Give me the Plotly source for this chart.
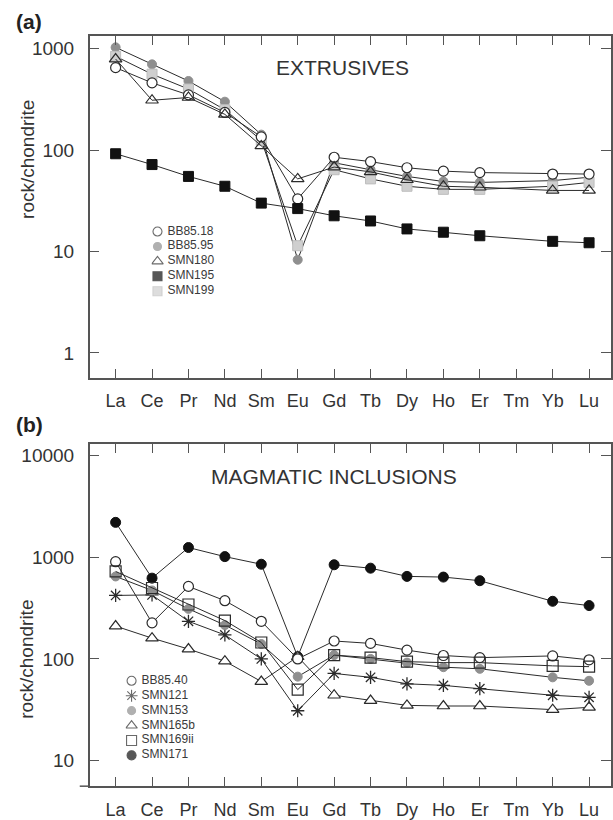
import plotly.graph_objects as go

# ---------------------------------------------------------------- data
elements = ["La", "Ce", "Pr", "Nd", "Sm", "Eu", "Gd", "Tb", "Dy", "Ho", "Er", "Tm", "Yb", "Lu"]

# (a) extrusives, chondrite-normalised REE (Tm not determined)
extr_names = ["BB85.18", "BB85.95", "SMN180", "SMN195", "SMN199"]
bb85_18 = [650, 460, 350, 235, 135, 33, 85, 77, 67, 62, 60, None, 58, 58]
bb85_95 = [1030, 700, 480, 300, 142, 8.3, 75, 64, 55, 49, 48, None, 50, 54]
smn180 = [790, 310, 330, 225, 110, 52, 68, 61, 51, 44, 43, None, 40, 40]
smn195 = [92, 72, 55, 44, 30, 26.5, 22.5, 20, 16.7, 15.5, 14.3, None, 12.6, 12.2]
smn199 = [840, 560, 400, 250, 125, 11.4, 64, 52, 44, 41, 41, None, 44, 48]

# (b) magmatic inclusions
incl_names = ["BB85.40", "SMN121", "SMN153", "SMN165b", "SMN169ii", "SMN171"]
bb85_40 = [900, 226, 515, 373, 234, 100, 150, 142, 122, 108, 103, None, 107, 98]
smn121 = [420, 425, 234, 172, 100, 31, 72, 66, 57, 55, 51, None, 44, 42]
smn153 = [645, 470, 310, 215, 140, 67, 109, 100, 92, 83, 80, None, 66, 61]
smn165b = [210, 160, 125, 95, 60, 105, 44, 39, 35, 34.5, 34.5, None, 31.8, 33.5]
smn169ii = [722, 497, 342, 238, 145, 50, 109, 103, 94, 92, 92, None, 85.5, 84]
smn171 = [2190, 621, 1240, 1010, 850, 105, 840, 778, 646, 636, 586, None, 368, 334]

# ---------------------------------------------------------------- styles
INK = "#2b2b2b"
AXIS = "#555555"
FONT = "Liberation Sans, Arial, sans-serif"
W, H = 613, 820

MARK = {
    "BB85.18": dict(symbol="circle", color="white", line=dict(color=INK, width=1.2), size=10),
    "BB85.95": dict(symbol="circle", color="#8f8f8f", line=dict(color="#8f8f8f", width=1), size=9),
    "SMN180": dict(symbol="triangle-up-open", color=INK, line=dict(color=INK, width=1.2), size=11),
    "SMN195": dict(symbol="square", color="#111111", line=dict(color="#111111", width=1), size=10),
    "SMN199": dict(symbol="square", color="#cfcfcf", line=dict(color="#bdbdbd", width=1), size=10),
    "BB85.40": dict(symbol="circle", color="white", line=dict(color=INK, width=1.2), size=10),
    "SMN121": dict(symbol="asterisk-open", color=INK, line=dict(color=INK, width=1.3), size=11),
    "SMN153": dict(symbol="circle", color="#8f8f8f", line=dict(color="#8f8f8f", width=1), size=9),
    "SMN165b": dict(symbol="triangle-up", color="white", line=dict(color=INK, width=1.2), size=11),
    "SMN169ii": dict(symbol="square-open", color=INK, line=dict(color=INK, width=1.2), size=11),
    "SMN171": dict(symbol="circle", color="#111111", line=dict(color="#111111", width=1), size=10),
}

x_idx = list(range(len(elements)))

fig = go.Figure()


def add_series(name, values, xa, ya):
    fig.add_trace(go.Scatter(
        x=x_idx, y=values, mode="lines+markers", name=name,
        connectgaps=True, showlegend=False,
        line=dict(color=INK, width=1),
        marker=MARK[name], xaxis=xa, yaxis=ya,
    ))


# draw order: later traces sit on top
for nm, vals in [("BB85.95", bb85_95), ("SMN199", smn199), ("BB85.18", bb85_18),
                 ("SMN180", smn180), ("SMN195", smn195)]:
    add_series(nm, vals, "x", "y")

for nm, vals in [("SMN171", smn171), ("SMN165b", smn165b), ("SMN121", smn121),
                 ("SMN153", smn153), ("BB85.40", bb85_40), ("SMN169ii", smn169ii)]:
    add_series(nm, vals, "x2", "y2")


# ---------------------------------------------------------------- legends (drawn on small helper axes)
def legend_block(names, xa, ya):
    fig.add_trace(go.Scatter(
        x=[0] * len(names), y=list(range(len(names))), mode="markers",
        showlegend=False, hoverinfo="skip", xaxis=xa, yaxis=ya,
        marker=dict(
            symbol=[MARK[n]["symbol"] for n in names],
            color=[MARK[n]["color"] for n in names],
            size=[MARK[n]["size"] - 1 for n in names],
            line=dict(color=[MARK[n]["line"]["color"] for n in names], width=1.1),
        ),
    ))
    fig.add_trace(go.Scatter(
        x=[10] * len(names), y=list(range(len(names))), mode="text",
        text=names, textposition="middle right", showlegend=False, hoverinfo="skip",
        textfont=dict(family=FONT, size=12, color="#3a3a3a"),
        xaxis=xa, yaxis=ya,
    ))


legend_block(extr_names, "x3", "y3")
legend_block(incl_names, "x4", "y4")

# ---------------------------------------------------------------- axes
PLOT_L, PLOT_R = 90, 613
LA_PX, LU_PX = 116, 591
step = (len(elements) - 1) / (LU_PX - LA_PX)
x_range = [-(LA_PX - PLOT_L) * step, len(elements) - 1 + (PLOT_R - LU_PX) * step]
x_dom = [PLOT_L / W, PLOT_R / W]


def ydom(top_px, bot_px):
    return [(H - bot_px) / H, (H - top_px) / H]


common_x = dict(
    range=x_range, domain=x_dom, tickmode="array", tickvals=x_idx, ticktext=elements,
    ticks="inside", ticklen=9, tickwidth=1.2, tickcolor=AXIS,
    showline=True, linecolor=AXIS, linewidth=1.5, mirror="ticks",
    showgrid=False, zeroline=False, ticklabelstandoff=6,
    tickfont=dict(family=FONT, size=18, color="#333333"),
)
common_y = dict(
    type="log", ticks="inside", ticklen=10, tickwidth=1.2, tickcolor=AXIS,
    showline=True, linecolor=AXIS, linewidth=1.5, mirror="ticks",
    showgrid=False, zeroline=False, ticklabelstandoff=10,
    tickfont=dict(family=FONT, size=19, color="#333333"),
)

A_TOP, A_BOT = 36, 380
B_TOP, B_BOT = 447, 791

fig.update_layout(
    width=W, height=H, margin=dict(l=0, r=0, t=0, b=0),
    paper_bgcolor="white", plot_bgcolor="white",
    xaxis=dict(common_x, anchor="y"),
    yaxis=dict(common_y, anchor="x", domain=ydom(A_TOP, A_BOT), range=[-0.244, 3.127],
               tickvals=[1, 10, 100, 1000], ticktext=["1", "10", "100", "1000"]),
    xaxis2=dict(common_x, anchor="y2"),
    yaxis2=dict(common_y, anchor="x2", domain=ydom(B_TOP, B_BOT), range=[0.751, 4.107],
                tickvals=[10, 100, 1000, 10000], ticktext=["10", "100", "1000", "10000"]),
    # helper axes for the two legends (pixel-like units)
    xaxis3=dict(domain=[152 / W, 260 / W], range=[-6, 102], visible=False, fixedrange=True, anchor="y3"),
    yaxis3=dict(domain=ydom(225.5, 300.5), range=[4.5, -0.5], visible=False, fixedrange=True, anchor="x3"),
    xaxis4=dict(domain=[126 / W, 234 / W], range=[-6, 102], visible=False, fixedrange=True, anchor="y4"),
    yaxis4=dict(domain=ydom(677.5, 767.5), range=[5.5, -0.5], visible=False, fixedrange=True, anchor="x4"),
    showlegend=False,
)

# panel captions and titles
ann = []
ann.append(dict(text="<b>(a)</b>", x=14 / W, y=(H - 22) / H, xref="paper", yref="paper",
                xanchor="left", yanchor="middle", showarrow=False,
                font=dict(family=FONT, size=21, color="#222222")))
ann.append(dict(text="<b>(b)</b>", x=14 / W, y=(H - 427) / H, xref="paper", yref="paper",
                xanchor="left", yanchor="middle", showarrow=False,
                font=dict(family=FONT, size=21, color="#222222")))
ann.append(dict(text="EXTRUSIVES", x=275 / W, y=(H - 68) / H, xref="paper", yref="paper",
                xanchor="left", yanchor="middle", showarrow=False,
                font=dict(family=FONT, size=21, color="#333333")))
ann.append(dict(text="MAGMATIC INCLUSIONS", x=210 / W, y=(H - 479) / H, xref="paper", yref="paper",
                xanchor="left", yanchor="middle", showarrow=False,
                font=dict(family=FONT, size=21, color="#333333")))
for yc in (160, 663):
    ann.append(dict(text="rock/chondrite", x=27 / W, y=(H - yc) / H, xref="paper", yref="paper",
                    xanchor="center", yanchor="middle", textangle=-90, showarrow=False,
                    font=dict(family=FONT, size=19, color="#333333")))
fig.update_layout(annotations=ann)

# the lower frame's base line runs a little past the left axis
fig.add_shape(type="line", xref="paper", yref="paper",
              x0=80 / W, x1=PLOT_L / W, y0=(H - B_BOT) / H, y1=(H - B_BOT) / H,
              line=dict(color=AXIS, width=1.5))

fig.write_html("out.html")
